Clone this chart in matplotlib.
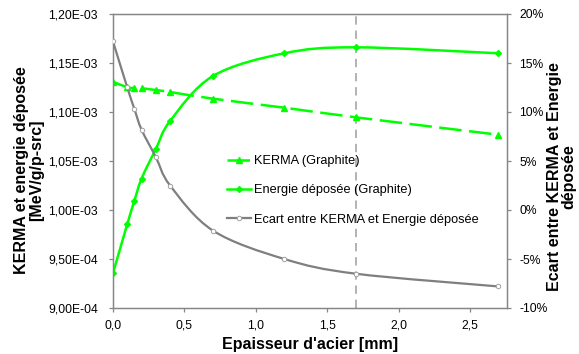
import matplotlib
matplotlib.use("Agg")
import matplotlib.pyplot as plt
import numpy as np
from matplotlib.path import Path
from matplotlib.patches import PathPatch
from matplotlib.lines import Line2D
from matplotlib.ticker import FuncFormatter, MultipleLocator

plt.rcParams['font.family'] = ['Liberation Sans', 'DejaVu Sans']

# epaisseur d'acier [mm]
epaisseur = [0.0, 0.1, 0.15, 0.2, 0.3, 0.4, 0.7, 1.2, 1.7, 2.7]
# KERMA (Graphite) [MeV/g/p-src]
kerma = [1.1309e-3, 1.1252e-3, 1.1245e-3, 1.1242e-3, 1.1224e-3,
         1.1204e-3, 1.1136e-3, 1.1044e-3, 1.0946e-3, 1.0768e-3]
# Energie deposee (Graphite) [MeV/g/p-src]
energie = [0.9354e-3, 0.9857e-3, 1.0095e-3, 1.0320e-3, 1.0622e-3,
           1.0908e-3, 1.1367e-3, 1.1599e-3, 1.1660e-3, 1.1599e-3]
# ecart entre KERMA et energie deposee [%]
ecart = [17.2, 12.5, 10.3, 8.2, 5.4, 2.5, -2.1, -5.0, -6.5, -7.8]
epaisseur_ref = 1.7

labels = ['KERMA (Graphite)', 'Energie déposée (Graphite)',
          'Ecart entre KERMA et Energie déposée']

GREEN = '#00ff00'
GRAY = '#7f7f7f'
AXC = '#868686'


def smooth_path(x, y, xlim, ylim):
    # Excel-like smoothed line: cubic bezier through the points
    sx = xlim[1] - xlim[0]
    sy = ylim[1] - ylim[0]
    p = np.column_stack([(np.asarray(x) - xlim[0]) / sx,
                         (np.asarray(y) - ylim[0]) / sy])
    n = len(p)
    verts = [p[0]]
    codes = [Path.MOVETO]
    for i in range(n - 1):
        p0 = p[max(i - 1, 0)]
        p1 = p[i]
        p2 = p[i + 1]
        p3 = p[min(i + 2, n - 1)]
        c1 = p1 + (p2 - p0) / 6.0
        c2 = p2 - (p3 - p1) / 6.0
        verts += [c1, c2, p2]
        codes += [Path.CURVE4] * 3
    v = np.array(verts)
    v[:, 0] = v[:, 0] * sx + xlim[0]
    v[:, 1] = v[:, 1] * sy + ylim[0]
    return Path(v, codes)


fig = plt.figure(figsize=(5.79, 3.54), dpi=100)
ax = fig.add_axes([113 / 579, 1 - 308 / 354, 394 / 579, 294 / 354])
ax2 = ax.twinx()

xlim = (0, 2.76)
ylim = (0.9e-3, 1.2e-3)
ylim2 = (-10, 20)
ax.set_xlim(*xlim)
ax.set_ylim(*ylim)
ax2.set_ylim(*ylim2)

ax.axvline(epaisseur_ref, color='#a6a6a6', lw=1.2, dashes=(5, 3.5), zorder=1)

kdash = (9, 3)
ax.add_patch(PathPatch(smooth_path(epaisseur, kerma, xlim, ylim), fill=False,
                       edgecolor=GREEN, lw=1.8, linestyle=(0, kdash), zorder=3))
ax.plot(epaisseur, kerma, linestyle='none', marker='^', ms=4.5,
        color=GREEN, zorder=4)

ax.add_patch(PathPatch(smooth_path(epaisseur, energie, xlim, ylim), fill=False,
                       edgecolor=GREEN, lw=1.8, zorder=3))
ax.plot(epaisseur, energie, linestyle='none', marker='D', ms=3.0,
        color=GREEN, zorder=4)

ax2.add_patch(PathPatch(smooth_path(epaisseur, ecart, xlim, ylim2), fill=False,
                        edgecolor=GRAY, lw=1.6, zorder=3))
ax2.plot(epaisseur, ecart, linestyle='none', marker='o', ms=3.2, mfc='white',
         mec='#a0a0a0', mew=0.7, zorder=4)

# axes style
for a in (ax, ax2):
    for s in a.spines.values():
        s.set_color(AXC)
        s.set_linewidth(0.9)
    a.tick_params(colors=AXC, labelcolor='black', length=3, width=0.9,
                  direction='out', labelsize=8.7)

ax.xaxis.set_major_locator(MultipleLocator(0.5))
ax.yaxis.set_major_locator(MultipleLocator(0.05e-3))
ax2.yaxis.set_major_locator(MultipleLocator(5))
ax.xaxis.set_major_formatter(FuncFormatter(lambda v, p: f"{v:.1f}".replace('.', ',')))
ax.yaxis.set_major_formatter(FuncFormatter(lambda v, p: f"{v:.2E}".replace('.', ',')))
ax2.yaxis.set_major_formatter(FuncFormatter(lambda v, p: f"{v:.0f}%"))
ax.tick_params(axis='y', pad=8)
ax.tick_params(axis='x', pad=5)
ax2.tick_params(axis='y', pad=6)

ax.set_xlabel("Epaisseur d'acier [mm]", fontsize=11.5, fontweight='bold',
              labelpad=4)
fig.text(29 / 579, 1 - 170 / 354, "KERMA et energie déposée\n[MeV/g/p-src]",
         rotation=90, ha='center', va='center', multialignment='center',
         fontsize=11.5, fontweight='bold', linespacing=1.0)
fig.text(562 / 579, 1 - 177 / 354, "Ecart entre KERMA et Energie\ndéposée",
         rotation=90, ha='center', va='center', multialignment='center',
         fontsize=11.5, fontweight='bold', linespacing=0.95)

handles = [
    Line2D([], [], color=GREEN, lw=1.8, marker='^', ms=4.5, linestyle=(0, kdash)),
    Line2D([], [], color=GREEN, lw=1.8, marker='D', ms=3.0),
    Line2D([], [], color=GRAY, lw=1.6, marker='o', ms=3.2, mfc='white',
           mec='#a0a0a0', mew=0.7),
]
ax2.legend(handles, labels, loc='upper left', frameon=False,
           bbox_to_anchor=((222 - 113) / 394, (308 - 150) / 294),
           fontsize=9.2, handlelength=1.9, handletextpad=0.2,
           labelspacing=1.35, borderaxespad=0)

fig.savefig('out.png', dpi=100)
